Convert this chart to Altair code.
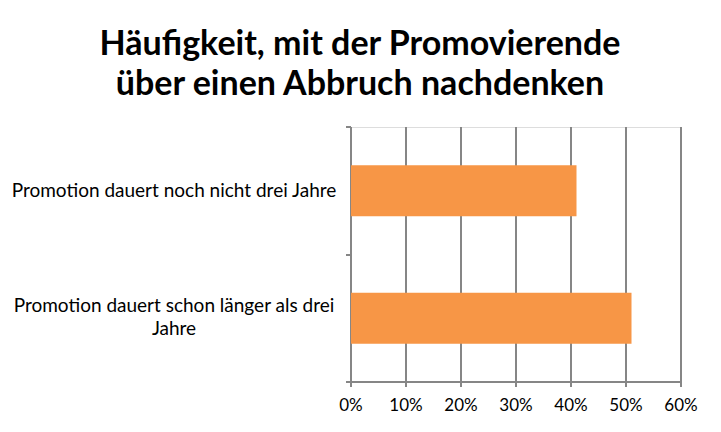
import altair as alt
import pandas as pd

categories = [
    "Promotion dauert noch nicht drei Jahre",
    "Promotion dauert schon länger als drei|Jahre",
]
values = [0.41, 0.51]
x_ticks = [0, 0.1, 0.2, 0.3, 0.4, 0.5, 0.6]
title_lines = ["Häufigkeit, mit der Promovierende", "über einen Abbruch nachdenken"]

df = pd.DataFrame({"cat": categories, "val": values})

grid = "#868686"

y_enc = alt.Y(
    "cat:N",
    sort=categories,
    scale=alt.Scale(paddingInner=0, paddingOuter=0),
    axis=alt.Axis(
        title=None,
        tickBand="extent",
        grid=False,
        labels=False,
        domainColor=grid,
        domainWidth=2,
        tickColor=grid,
        tickWidth=2,
        tickSize=5,
        translate=0,
    ),
)

bars = (
    alt.Chart(df)
    .mark_bar(color="#F79646", height=alt.RelativeBandSize(0.4))
    .encode(
        x=alt.X(
            "val:Q",
            scale=alt.Scale(domain=[0, 0.6], nice=False),
            axis=alt.Axis(
                values=x_ticks,
                format=".0%",
                title=None,
                grid=True,
                gridColor=grid,
                gridWidth=2,
                domainColor=grid,
                domainWidth=2,
                tickColor=grid,
                tickWidth=2,
                tickSize=5,
                labelFont="Lato",
                labelFontSize=17,
                labelColor="black",
                labelFlush=False,
                labelPadding=11,
                translate=0,
            ),
        ),
        y=y_enc,
    )
)

label_style = dict(
    font="Lato",
    fontSize=19,
    color="black",
    align="center",
    baseline="middle",
    lineBreak="|",
    lineHeight=23,
)

labels_single = (
    alt.Chart(df)
    .transform_filter("indexof(datum.cat, '|') < 0")
    .mark_text(**label_style)
    .encode(y=alt.Y("cat:N", sort=categories), x=alt.value(-177), text="cat:N")
)

labels_multi = (
    alt.Chart(df)
    .transform_filter("indexof(datum.cat, '|') >= 0")
    .mark_text(dy=-12, **label_style)
    .encode(y=alt.Y("cat:N", sort=categories), x=alt.value(-177), text="cat:N")
)

chart = (
    alt.layer(bars, labels_single, labels_multi)
    .properties(
        width=330,
        height=255,
        autosize=alt.AutoSizeParams(type="none"),
        padding={"left": 343, "top": 119, "right": 32, "bottom": 42},
        title=alt.TitleParams(
            text=title_lines,
            font="Lato",
            fontSize=34,
            fontWeight="bold",
            color="black",
            anchor="middle",
            dx=-156,
            lineHeight=40,
            offset=24,
        ),
    )
    .configure_view(stroke=None)
    .configure(background="white")
)

chart.save("out.html", embed_options={"renderer": "svg", "actions": False})
